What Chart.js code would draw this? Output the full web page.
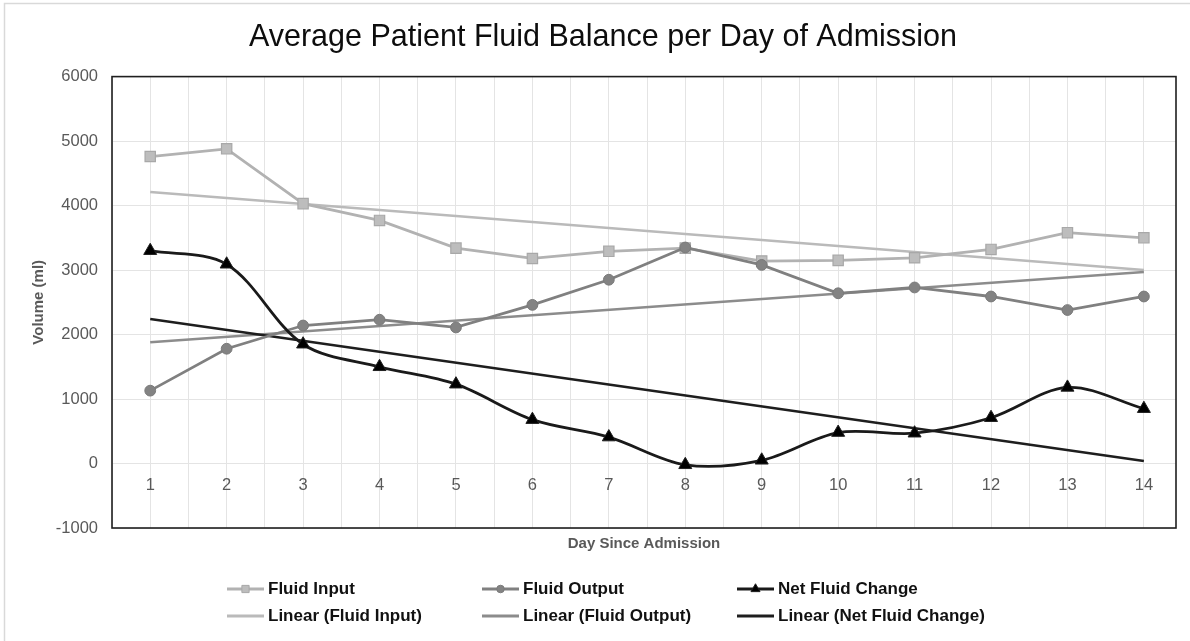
<!DOCTYPE html>
<html>
<head>
<meta charset="utf-8">
<script src="https://cdn.jsdelivr.net/npm/chart.js@4.4.1/dist/chart.umd.min.js"></script>
<style>
html,body{margin:0;padding:0;background:#fff;}
#wrap{width:1190px;height:641px;position:relative;}
canvas{display:block;}
</style>
</head>
<body>
<div id="wrap"><canvas id="c" width="1190" height="641"></canvas></div>
<script>
// ---- data ----
const days = [1, 2, 3, 4, 5, 6, 7, 8, 9, 10, 11, 12, 13, 14];
const fluidInput = [4760, 4880, 4030, 3770, 3340, 3180, 3290, 3340, 3140, 3150, 3190, 3320, 3580, 3500];
const fluidOutput = [1130, 1780, 2140, 2230, 2110, 2460, 2850, 3350, 3080, 2640, 2730, 2590, 2380, 2590];
const netFluidChange = [3300, 3090, 1850, 1500, 1230, 680, 410, -20, 50, 480, 470, 710, 1180, 850];
const trendDays = [1, 14];
const trendInput = [4210, 3000];
const trendOutput = [1880, 2970];
const trendNet = [2240, 40];
const yTickValues = [-1000, 0, 1000, 2000, 3000, 4000, 5000, 6000];
const seriesNames = ['Fluid Input', 'Fluid Output', 'Net Fluid Change',
  'Linear (Fluid Input)', 'Linear (Fluid Output)', 'Linear (Net Fluid Change)'];

const pts = (xs, ys) => xs.map((x, i) => ({x: x, y: ys[i]}));

const FONT = "'Liberation Sans', Arial, sans-serif";
Chart.defaults.font.family = FONT;

// background + outer frame
const framePlugin = {
  id: 'frame',
  beforeDraw(chart) {
    const ctx = chart.ctx;
    ctx.save();
    ctx.fillStyle = '#ffffff';
    ctx.fillRect(0, 0, chart.width, chart.height);
    ctx.strokeStyle = '#d9d9d9';
    ctx.lineWidth = 1.5;
    ctx.strokeRect(4.5, 3.5, chart.width + 40, chart.height + 40);
    ctx.restore();
  }
};

// plot area box
const boxPlugin = {
  id: 'plotBox',
  beforeDatasetsDraw(chart) {
    const a = chart.chartArea, ctx = chart.ctx;
    ctx.save();
    ctx.strokeStyle = '#1f1f1f';
    ctx.lineWidth = 1.6;
    ctx.strokeRect(a.left, a.top, a.right - a.left, a.bottom - a.top);
    ctx.restore();
  }
};

// grid-style legend (3 columns x 2 rows)
const legendPos = {cols: [227, 482, 737], rows: [589, 616], lineLen: 37};
const gridLegend = {
  id: 'gridLegend',
  afterDraw(chart) {
    const ctx = chart.ctx;
    ctx.save();
    chart.data.datasets.forEach((ds, i) => {
      const x = legendPos.cols[i % 3];
      const y = legendPos.rows[Math.floor(i / 3)];
      ctx.strokeStyle = ds.borderColor;
      ctx.lineWidth = 3;
      ctx.beginPath();
      ctx.moveTo(x, y);
      ctx.lineTo(x + legendPos.lineLen, y);
      ctx.stroke();
      if (ds.pointRadius > 0) {
        ctx.fillStyle = ds.pointBackgroundColor;
        ctx.strokeStyle = ds.pointBorderColor;
        ctx.lineWidth = 1;
        Chart.helpers.drawPoint(ctx, {pointStyle: ds.pointStyle, radius: ds.pointRadius * 0.7, borderWidth: 1, rotation: 0},
          x + legendPos.lineLen / 2, y);
      }
      ctx.fillStyle = '#111111';
      ctx.font = 'bold 17px ' + FONT;
      ctx.textBaseline = 'middle';
      ctx.textAlign = 'left';
      ctx.fillText(ds.label, x + legendPos.lineLen + 4, y);
    });
    ctx.restore();
  }
};

new Chart(document.getElementById('c'), {
  type: 'line',
  data: {
    datasets: [
      {label: seriesNames[0], data: pts(days, fluidInput), xAxisID: 'x', yAxisID: 'y',
       borderColor: '#b2b2b2', borderWidth: 2.8, pointStyle: 'rect', pointRadius: 7.3,
       pointBackgroundColor: '#bdbdbd', pointBorderColor: '#a8a8a8', pointBorderWidth: 1.2, tension: 0, order: 3},
      {label: seriesNames[1], data: pts(days, fluidOutput), xAxisID: 'x', yAxisID: 'y',
       borderColor: '#808080', borderWidth: 2.8, pointStyle: 'circle', pointRadius: 5.4,
       pointBackgroundColor: '#838383', pointBorderColor: '#7a7a7a', pointBorderWidth: 1, tension: 0, order: 2},
      {label: seriesNames[2], data: pts(days, netFluidChange), xAxisID: 'x', yAxisID: 'y',
       borderColor: '#1a1a1a', borderWidth: 2.8, pointStyle: 'triangle', pointRadius: 7.5,
       pointBackgroundColor: '#000000', pointBorderColor: '#202020', pointBorderWidth: 1, tension: 0.33, order: 1},
      {label: seriesNames[3], data: pts(trendDays, trendInput), xAxisID: 'x', yAxisID: 'y',
       borderColor: '#bababa', borderWidth: 2.6, pointRadius: 0, tension: 0, order: 6},
      {label: seriesNames[4], data: pts(trendDays, trendOutput), xAxisID: 'x', yAxisID: 'y',
       borderColor: '#8c8c8c', borderWidth: 2.6, pointRadius: 0, tension: 0, order: 5},
      {label: seriesNames[5], data: pts(trendDays, trendNet), xAxisID: 'x', yAxisID: 'y',
       borderColor: '#1e1e1e', borderWidth: 2.6, pointRadius: 0, tension: 0, order: 4}
    ]
  },
  options: {
    responsive: false,
    animation: false,
    events: [],
    layout: {padding: {left: 30, right: 14, top: 0, bottom: 0}},
    plugins: {
      legend: {display: false},
      tooltip: {enabled: false},
      title: {
        display: true,
        text: 'Average Patient Fluid Balance per Day of Admission',
        color: '#0d0d0d',
        font: {size: 30.5, weight: 'normal', family: FONT},
        padding: {top: 19, bottom: 21}
      }
    },
    scales: {
      x: {
        type: 'linear',
        axis: 'x',
        position: {y: 0},
        min: 0.5,
        max: 14.42,
        afterBuildTicks(scale) {
          const t = [];
          for (let v = 0.5; v <= 14.001; v += 0.5) t.push({value: v});
          scale.ticks = t;
        },
        ticks: {
          color: '#595959',
          font: {size: 16.5},
          padding: 12,
          autoSkip: false,
          maxRotation: 0,
          callback: (v) => (Number.isInteger(v) && days.includes(v)) ? String(v) : ''
        },
        grid: {color: '#e4e4e4', lineWidth: 1, drawTicks: false},
        border: {display: false}
      },
      x2: {
        type: 'linear',
        axis: 'x',
        position: 'bottom',
        display: true,
        ticks: {display: false},
        grid: {display: false, drawTicks: false},
        border: {display: false},
        title: {display: true, text: 'Day Since Admission', color: '#595959',
                font: {size: 15, weight: 'bold'}, padding: {top: 0, bottom: 88}},
        afterFit(scale) { scale.height = 641 - 528; }
      },
      y: {
        type: 'linear',
        position: 'left',
        min: -1000,
        max: 6000,
        afterBuildTicks(scale) { scale.ticks = yTickValues.map(v => ({value: v})); },
        ticks: {color: '#595959', font: {size: 16.5}, padding: 14, callback: (v) => String(v)},
        grid: {color: '#e4e4e4', lineWidth: 1, drawTicks: false},
        border: {display: false},
        title: {display: true, text: 'Volume (ml)', color: '#595959',
                font: {size: 15, weight: 'bold'}, padding: {top: 0, bottom: 0}},
        afterFit(scale) { scale.width = 112 - 30; }
      }
    }
  },
  plugins: [framePlugin, boxPlugin, gridLegend]
});
</script>
</body>
</html>
